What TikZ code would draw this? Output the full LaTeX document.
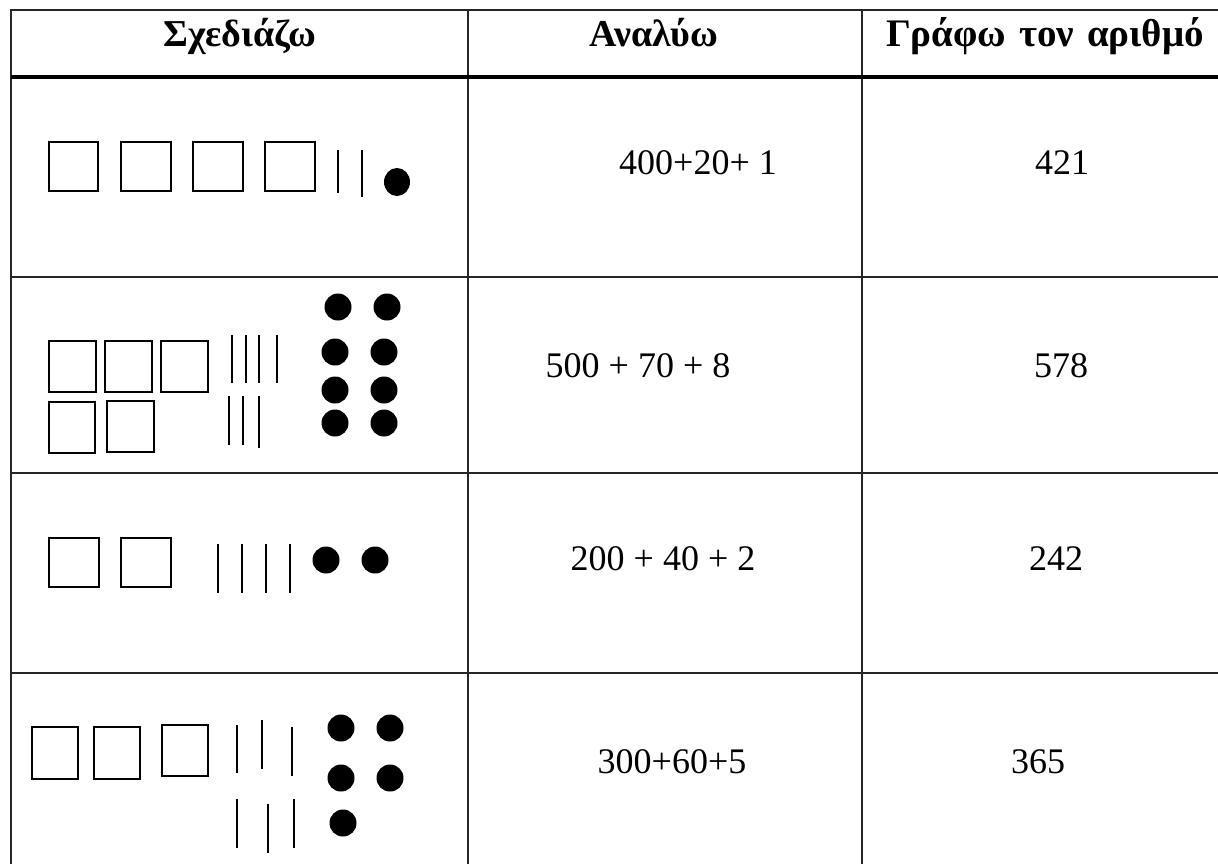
\documentclass[tikz,border=0pt]{standalone}
\usepackage{fontspec}
\setmainfont{Liberation Serif}
\begin{document}
\begin{tikzpicture}[x=1pt,y=-1pt,
  grid/.style={line width=1.3pt,draw=black!85},
  headrule/.style={line width=3.2pt,draw=black},
  unitsq/.style={line width=1.7pt,draw=black},
  tenbar/.style={line width=1.9pt,draw=black},
  onedot/.style={fill=black},
  headtxt/.style={font=\fontsize{38}{42}\selectfont\bfseries,anchor=base,inner sep=0pt},
  celltxt/.style={font=\fontsize{36}{40}\selectfont,anchor=base,inner sep=0pt}]
\useasboundingbox (0,0) rectangle (1218,863);
\clip (0,0) rectangle (1218,863);
% table grid
\draw[grid] (11,880) -- (11,10) -- (1240,10);
\draw[grid] (468,10) -- (468,880);
\draw[grid] (862,10) -- (862,880);
\draw[headrule] (11,77) -- (1240,77);
\draw[grid] (11,277) -- (1240,277);
\draw[grid] (11,473) -- (1240,473);
\draw[grid] (11,673) -- (1240,673);
% headers
\node[headtxt] (h1) at (240,46) {Σχεδιάζω};
\node[headtxt] (h2) at (654,46) {Αναλύω};
\node[headtxt,font=\fontsize{39}{42}\selectfont\bfseries] (h3) at (1045,46) {Γράφω\hspace{0.33em}τον\hspace{0.33em}αριθμό};
% row 1
\draw[unitsq] (49,142) rectangle (98,191);
\draw[unitsq] (121,142) rectangle (171,191);
\draw[unitsq] (193,142) rectangle (243,191);
\draw[unitsq] (265,142) rectangle (315,191);
\draw[tenbar,line width=2.6pt] (338,150) -- (338,193);
\draw[tenbar,line width=2.6pt] (362,150) -- (362,197);
\fill[onedot] (397,182) ellipse (13pt and 14pt);
\node[celltxt] (a1) at (698,174) {400+20+ 1};
\node[celltxt] (n1) at (1062,174) {421};
% row 2
\draw[unitsq] (49,341) rectangle (96,392);
\draw[unitsq] (105,341) rectangle (152,392);
\draw[unitsq] (161,341) rectangle (208,392);
\draw[unitsq] (49,402) rectangle (95,453);
\draw[unitsq] (107,401) rectangle (154,452);
\foreach \x in {232,246,259,277} \draw[tenbar] (\x,335) -- (\x,383);
\draw[tenbar] (229,396) -- (229,445);
\draw[tenbar] (243,396) -- (243,445);
\draw[tenbar] (259,396) -- (259,448);
\foreach \p in {(338,307),(387,307),(335,352),(384,352),(335,390),(384,390),(335,423),(384,423)}
  \fill[onedot] \p circle (13.5pt);
\node[celltxt] (a2) at (638,377) {500 + 70 + 8};
\node[celltxt] (n2) at (1061,377) {578};
% row 3
\draw[unitsq] (49,538) rectangle (99,587);
\draw[unitsq] (121,538) rectangle (171,587);
\foreach \x in {218,242,266,290} \draw[tenbar] (\x,544) -- (\x,593);
\fill[onedot] (326,560) circle (13.5pt);
\fill[onedot] (375,560) circle (13.5pt);
\node[celltxt] (a3) at (663,570) {200 + 40 + 2};
\node[celltxt] (n3) at (1056,570) {242};
% row 4
\draw[unitsq] (32,727) rectangle (78,779);
\draw[unitsq] (94,727) rectangle (140,779);
\draw[unitsq] (162,725) rectangle (208,776);
\draw[tenbar] (237,725) -- (237,773);
\draw[tenbar] (262,720) -- (262,769);
\draw[tenbar] (292,727) -- (292,776);
\draw[tenbar] (237,799) -- (237,848);
\draw[tenbar] (268,804) -- (268,853);
\draw[tenbar] (294,799) -- (294,848);
\foreach \p in {(341,728),(390,728),(341,778),(390,778),(343,823)}
  \fill[onedot] \p circle (13.5pt);
\node[celltxt] (a4) at (672,773) {300+60+5};
\node[celltxt] (n4) at (1038,773) {365};
\end{tikzpicture}
\end{document}
